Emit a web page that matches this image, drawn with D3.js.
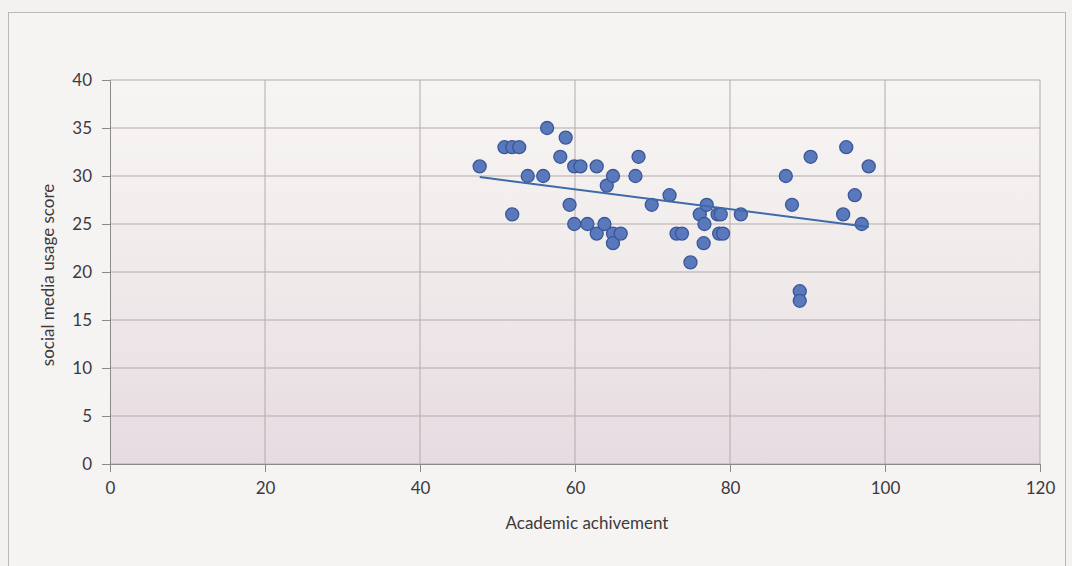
<!DOCTYPE html>
<html><head><meta charset="utf-8">
<script src="https://cdn.jsdelivr.net/npm/d3@7"></script>
<style>
body{margin:0;background:#f4f2f1;}
text{font-family:Lato,"Open Sans",sans-serif;fill:#3c3a3c;}
</style></head><body>
<svg id="c" width="1072" height="566"></svg>
<script>
const academic = [47.7,50.9,51.9,52.8,51.9,53.9,55.9,56.4,58.8,58.1,59.3,59.9,60.7,59.9,61.6,62.8,62.8,63.8,64.1,64.9,64.9,64.9,65.9,68.2,67.8,69.9,72.2,73.1,73.8,74.9,76.1,77.0,76.7,76.6,78.4,78.8,78.6,79.1,81.4,87.2,88.0,90.4,89.0,89.0,95.0,94.6,96.1,97.0,97.9];
const social =   [31,33,33,33,26,30,30,35,34,32,27,31,31,25,25,24,31,25,29,30,24,23,24,32,30,27,28,24,24,21,26,27,25,23,26,26,24,24,26,30,27,32,18,17,33,26,28,25,31];
const xTicks = [0,20,40,60,80,100,120];
const yTicks = [0,5,10,15,20,25,30,35,40];

const svg = d3.select("#c");
const L=110,R=1040,T=80,B=464;
const x = d3.scaleLinear().domain([0,120]).range([L,R]);
const y = d3.scaleLinear().domain([0,40]).range([B,T]);

svg.append("rect").attr("x",8.5).attr("y",12.5).attr("width",1057).attr("height",560)
  .attr("fill","#f6f4f3").attr("stroke","#bdb8b8").attr("stroke-width",1);

const defs = svg.append("defs");
const g = defs.append("linearGradient").attr("id","bg").attr("x1",0).attr("y1",0).attr("x2",0).attr("y2",1);
g.append("stop").attr("offset","0%").attr("stop-color","#f7f5f4");
g.append("stop").attr("offset","45%").attr("stop-color","#f1ecec");
g.append("stop").attr("offset","100%").attr("stop-color","#e6dbe1");
svg.append("rect").attr("x",L).attr("y",T).attr("width",R-L).attr("height",B-T).attr("fill","url(#bg)");

// gridlines
svg.append("g").selectAll("line").data(yTicks).join("line")
  .attr("x1",L).attr("x2",R).attr("y1",d=>y(d)).attr("y2",d=>y(d))
  .attr("stroke","#b3abab").attr("stroke-width",1);
svg.append("g").selectAll("line").data(xTicks.slice(1)).join("line")
  .attr("y1",T).attr("y2",B).attr("x1",d=>x(d)).attr("x2",d=>x(d))
  .attr("stroke","#b3abab").attr("stroke-width",1);

// axes
const xa = svg.append("g").attr("transform",`translate(0,${B})`)
  .call(d3.axisBottom(x).tickValues(xTicks).tickSize(8).tickPadding(10));
const ya = svg.append("g").attr("transform",`translate(${L},0)`)
  .call(d3.axisLeft(y).tickValues(yTicks).tickSize(8).tickPadding(10));
[xa,ya].forEach(a=>{
  a.select(".domain").attr("stroke","#8e8888");
  a.selectAll(".tick line").attr("stroke","#8e8888");
  a.selectAll(".tick text").attr("font-size",17).attr("fill","#3c3a3c").style("font-family","Lato, 'Open Sans', sans-serif");
});

// trendline (least squares)
const n=academic.length, mx=d3.mean(academic), my=d3.mean(social);
let sxy=0,sxx=0; for(let i=0;i<n;i++){sxy+=(academic[i]-mx)*(social[i]-my);sxx+=(academic[i]-mx)**2;}
const b=sxy/sxx, a0=my-b*mx;
const [xmin,xmax]=d3.extent(academic);

// points
svg.append("g").selectAll("circle").data(academic).join("circle")
  .attr("cx",d=>x(d)).attr("cy",(d,i)=>y(social[i])).attr("r",6.5)
  .attr("fill","#5a79bd").attr("stroke","#3b5796").attr("stroke-width",1.3);

svg.append("line").attr("x1",x(xmin)).attr("y1",y(a0+b*xmin)).attr("x2",x(xmax)).attr("y2",y(a0+b*xmax))
  .attr("stroke","#3d6aa8").attr("stroke-width",2);

svg.append("text").attr("x",(L+R)/2+12).attr("y",529).attr("text-anchor","middle").attr("font-size",17).text("Academic achivement");
svg.append("text").attr("transform","translate(54,275) rotate(-90)").attr("text-anchor","middle").attr("font-size",17).text("social media usage score");
</script></body></html>
